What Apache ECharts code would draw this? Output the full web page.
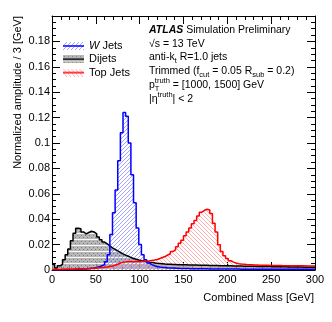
<!DOCTYPE html>
<html>
<head>
<meta charset="utf-8">
<script src="https://cdn.jsdelivr.net/npm/echarts@6/dist/echarts.min.js"></script>
<style>
  html, body { margin: 0; padding: 0; background: #fff; }
  #chart { width: 332px; height: 322px; }
</style>
</head>
<body>
<div id="chart"></div>
<script>
// histogram bins, 3 GeV wide, from 0 to 300 GeV
var binWidth = 3;

var wJets = [
  0.0002, 0.0002, 0.0002, 0.0003, 0.0003, 0.0003, 0.0004, 0.0004, 0.0005, 0.0005,
  0.0006, 0.0007, 0.0008, 0.0010, 0.0013, 0.0016, 0.0020, 0.0026, 0.0033, 0.0042,
  0.0065, 0.0120, 0.0280, 0.0450, 0.0630, 0.0860, 0.1080, 0.1240, 0.1210, 0.1000,
  0.0750, 0.0530, 0.0330, 0.0200, 0.0120, 0.0080, 0.0055, 0.0042, 0.0034, 0.0028,
  0.0024, 0.0021, 0.0019, 0.0017, 0.0016, 0.0015, 0.0014, 0.0013, 0.0012, 0.0012,
  0.0011, 0.0011, 0.0010, 0.0010, 0.0010, 0.0009, 0.0009, 0.0009, 0.0009, 0.0008,
  0.0008, 0.0008, 0.0008, 0.0008, 0.0007, 0.0007, 0.0007, 0.0007, 0.0007, 0.0007,
  0.0007, 0.0006, 0.0006, 0.0006, 0.0006, 0.0006, 0.0006, 0.0006, 0.0006, 0.0006,
  0.0006, 0.0006, 0.0005, 0.0005, 0.0005, 0.0005, 0.0005, 0.0005, 0.0005, 0.0005,
  0.0005, 0.0005, 0.0005, 0.0005, 0.0005, 0.0005, 0.0005, 0.0005, 0.0005, 0.0005
];

var dijets = [
  0.0045, 0.0015, 0.0033, 0.0045, 0.0080, 0.0120, 0.0165, 0.0230, 0.0290, 0.0328,
  0.0325, 0.0300, 0.0285, 0.0295, 0.0305, 0.0300, 0.0285, 0.0260, 0.0238, 0.0220,
  0.0205, 0.0190, 0.0175, 0.0162, 0.0150, 0.0138, 0.0127, 0.0117, 0.0108, 0.0099,
  0.0091, 0.0085, 0.0079, 0.0074, 0.0070, 0.0066, 0.0062, 0.0059, 0.0056, 0.0053,
  0.0051, 0.0049, 0.0047, 0.0046, 0.0045, 0.0044, 0.0043, 0.0042, 0.0042, 0.0041,
  0.0041, 0.0040, 0.0040, 0.0039, 0.0039, 0.0038, 0.0038, 0.0037, 0.0037, 0.0036,
  0.0036, 0.0035, 0.0035, 0.0034, 0.0034, 0.0033, 0.0033, 0.0033, 0.0032, 0.0032,
  0.0031, 0.0031, 0.0030, 0.0030, 0.0030, 0.0029, 0.0029, 0.0028, 0.0028, 0.0028,
  0.0027, 0.0027, 0.0027, 0.0026, 0.0026, 0.0026, 0.0025, 0.0025, 0.0025, 0.0024,
  0.0024, 0.0024, 0.0023, 0.0023, 0.0023, 0.0022, 0.0022, 0.0022, 0.0021, 0.0021
];

var topJets = [
  0.0003, 0.0003, 0.0004, 0.0004, 0.0005, 0.0005, 0.0006, 0.0006, 0.0007, 0.0008,
  0.0008, 0.0009, 0.0010, 0.0011, 0.0012, 0.0013, 0.0015, 0.0017, 0.0019, 0.0021,
  0.0024, 0.0028, 0.0032, 0.0037, 0.0045, 0.0055, 0.0060, 0.0064, 0.0066, 0.0066,
  0.0065, 0.0066, 0.0067, 0.0068, 0.0069, 0.0070, 0.0072, 0.0075, 0.0078, 0.0083,
  0.0090, 0.0098, 0.0106, 0.0118, 0.0128, 0.0145, 0.0160, 0.0183, 0.0210, 0.0235,
  0.0270, 0.0300, 0.0330, 0.0365, 0.0390, 0.0425, 0.0455, 0.0470, 0.0478, 0.0472,
  0.0445, 0.0368, 0.0300, 0.0198, 0.0145, 0.0112, 0.0090, 0.0073, 0.0062, 0.0055,
  0.0050, 0.0047, 0.0045, 0.0043, 0.0042, 0.0041, 0.0040, 0.0039, 0.0038, 0.0038,
  0.0037, 0.0037, 0.0036, 0.0036, 0.0035, 0.0035, 0.0035, 0.0034, 0.0034, 0.0034,
  0.0034, 0.0033, 0.0033, 0.0033, 0.0033, 0.0033, 0.0032, 0.0032, 0.0032, 0.0032
];

var seriesNames = ['W Jets', 'Dijets', 'Top Jets'];
var xStep = 50;
var yStep = 0.02;

var FONT = 'Liberation Sans, Arial, Helvetica, sans-serif';

// fill patterns (ROOT style hatches)
function hatch(color, forward) {
  var c = document.createElement('canvas');
  c.width = 4; c.height = 4;
  var g = c.getContext('2d');
  g.strokeStyle = color;
  g.lineWidth = 0.8;
  g.beginPath();
  if (forward) {
    g.moveTo(-1, 5); g.lineTo(5, -1);
    g.moveTo(-1, 1); g.lineTo(1, -1);
    g.moveTo(3, 5); g.lineTo(5, 3);
  } else {
    g.moveTo(-1, -1); g.lineTo(5, 5);
    g.moveTo(3, -1); g.lineTo(5, 1);
    g.moveTo(-1, 3); g.lineTo(1, 5);
  }
  g.stroke();
  return c;
}
function dotted() {
  var c = document.createElement('canvas');
  c.width = 4; c.height = 6;
  var g = c.getContext('2d');
  g.fillStyle = 'rgba(165,165,165,0.8)';
  g.fillRect(0, 0, 4, 6);
  g.fillStyle = 'rgba(110,110,110,0.8)';
  g.fillRect(1, 1, 1, 1);
  g.fillRect(3, 3, 1, 1);
  g.fillStyle = 'rgba(255,255,255,0.9)';
  g.fillRect(0, 5, 4, 1);
  return c;
}

var wTile = hatch('#8c8cff', true);
var topTile = hatch('#ff9a9a', false);
var diTile = dotted();

// legend icon: pattern box with the line colour through the middle
function icon(tile, lineColor) {
  var c = document.createElement('canvas');
  c.width = 21; c.height = 8;
  var g = c.getContext('2d');
  g.fillStyle = g.createPattern(tile, 'repeat');
  g.fillRect(0, 0, 21, 8);
  g.strokeStyle = lineColor;
  g.lineWidth = 1.5;
  g.beginPath(); g.moveTo(0, 4); g.lineTo(21, 4); g.stroke();
  return 'image://' + c.toDataURL();
}

function steps(vals) {
  var pts = vals.map(function (v, i) { return [i * binWidth, v]; });
  pts.push([vals.length * binWidth, vals[vals.length - 1]]);
  return pts;
}

// text with sub/superscripts, laid out piece by piece
var mctx = document.createElement('canvas').getContext('2d');
function tw(text, size, style, weight) {
  mctx.font = style + ' ' + weight + ' ' + size + 'px ' + FONT;
  return mctx.measureText(text).width;
}
function txt(x, y, text, size, style, weight) {
  return {
    type: 'text', x: x, y: y, silent: true,
    style: {
      text: text, fill: '#000', fontSize: size, fontFamily: FONT,
      fontStyle: style, fontWeight: weight,
      align: 'left', textAlign: 'left', verticalAlign: 'middle', textVerticalAlign: 'middle'
    }
  };
}
function row(x, y, pieces) {
  var out = [], cx = x;
  pieces.forEach(function (p) {
    var st = p.style || 'normal', wt = p.weight || 'normal';
    if (p.t !== undefined) {
      out.push(txt(cx, y, p.t, 10.5, st, wt));
      cx += tw(p.t, 10.5, st, wt);
    } else {
      var w = 0;
      if (p.sup) { out.push(txt(cx, y - 4, p.sup, 7.5, 'normal', 'normal')); w = Math.max(w, tw(p.sup, 7.5, 'normal', 'normal')); }
      if (p.sub) { out.push(txt(cx, y + 3.5, p.sub, 7.5, 'normal', 'normal')); w = Math.max(w, tw(p.sub, 7.5, 'normal', 'normal')); }
      cx += w;
    }
  });
  return out;
}

var tx = 149;
var graphics = [].concat(
  row(tx, 30, [{t: 'ATLAS', style: 'italic', weight: 'bold'}, {t: ' Simulation Preliminary'}]),
  row(tx, 44, [{t: '\u221As = 13 TeV'}]),
  row(tx, 57.5, [{t: 'anti-k'}, {sub: 't'}, {t: ' R=1.0 jets'}]),
  row(tx, 71.5, [{t: 'Trimmed (f'}, {sub: 'cut'}, {t: ' = 0.05 R'}, {sub: 'sub'}, {t: ' = 0.2)'}]),
  row(tx, 85, [{t: 'p'}, {sup: 'truth', sub: 'T'}, {t: ' = [1000, 1500] GeV'}]),
  row(tx, 99, [{t: '|\u03B7'}, {sup: 'truth'}, {t: '| < 2'}]),
  [
    {
      type: 'text', x: 18, y: 16, rotation: Math.PI / 2, silent: true,
      style: {
        text: 'Normalized amplitude / 3 [GeV]', fill: '#000', fontSize: 11, fontFamily: FONT,
        align: 'right', textAlign: 'right', verticalAlign: 'middle', textVerticalAlign: 'middle'
      }
    },
    {
      type: 'text', x: 314, y: 298, silent: true,
      style: {
        text: 'Combined Mass [GeV]', fill: '#000', fontSize: 11, fontFamily: FONT,
        align: 'right', textAlign: 'right', verticalAlign: 'middle', textVerticalAlign: 'middle'
      }
    }
  ]
);

var axisCommon = {
  type: 'value',
  axisLine: { show: true, onZero: false, lineStyle: { color: '#000', width: 1 } },
  axisTick: { show: true, inside: true, length: 8, lineStyle: { color: '#000' } },
  minorTick: { show: true, length: 4, lineStyle: { color: '#000' } },
  splitLine: { show: false },
  axisLabel: { color: '#000', fontSize: 11, fontFamily: FONT }
};
function axis(extra) {
  return echarts.util.merge(echarts.util.clone(axisCommon), extra, true);
}

var chart = echarts.init(document.getElementById('chart'), null, { renderer: 'canvas' });

var option = {
  animation: false,
  backgroundColor: '#fff',
  grid: { left: 52, right: 17, top: 16, bottom: 52 },
  xAxis: [
    axis({ position: 'bottom', min: 0, max: 300, interval: xStep, minorTick: { splitNumber: 5 }, axisLabel: { margin: 4 } }),
    axis({ position: 'top', min: 0, max: 300, interval: xStep, minorTick: { splitNumber: 5 }, axisLabel: { show: false } })
  ],
  yAxis: [
    axis({ position: 'left', min: 0, max: 0.2, interval: yStep, minorTick: { splitNumber: 4 }, axisLabel: { margin: 2, showMaxLabel: false } }),
    axis({ position: 'right', min: 0, max: 0.2, interval: yStep, minorTick: { splitNumber: 4 }, axisLabel: { show: false } })
  ],
  legend: {
    orient: 'vertical', left: 63, top: 39.5, padding: 0, itemGap: 0.3,
    itemWidth: 21, itemHeight: 8,
    selectedMode: false,
    data: [
      { name: seriesNames[0], icon: icon(wTile, '#0000ff') },
      { name: seriesNames[1], icon: icon(diTile, '#000000') },
      { name: seriesNames[2], icon: icon(topTile, '#ff0000') }
    ],
    formatter: function (name) { return name === 'W Jets' ? '{i|W} Jets' : name; },
    textStyle: {
      color: '#000', fontSize: 11, fontFamily: FONT, lineHeight: 13,
      rich: { i: { fontStyle: 'italic', fontSize: 11, fontFamily: FONT, lineHeight: 13 } }
    }
  },
  series: [
    {
      name: seriesNames[1], type: 'line', step: 'end', symbol: 'none', silent: true,
      data: steps(dijets),
      lineStyle: { color: '#000', width: 1.5 },
      itemStyle: { color: '#000' },
      areaStyle: { color: { image: diTile, repeat: 'repeat' }, opacity: 1 }
    },
    {
      name: seriesNames[0], type: 'line', step: 'end', symbol: 'none', silent: true,
      data: steps(wJets),
      lineStyle: { color: '#0000ff', width: 1.5 },
      itemStyle: { color: '#0000ff' },
      areaStyle: { color: { image: wTile, repeat: 'repeat' }, opacity: 1 }
    },
    {
      name: seriesNames[2], type: 'line', step: 'end', symbol: 'none', silent: true,
      data: steps(topJets),
      lineStyle: { color: '#ff0000', width: 1.5 },
      itemStyle: { color: '#ff0000' },
      areaStyle: { color: { image: topTile, repeat: 'repeat' }, opacity: 1 }
    }
  ],
  graphic: graphics
};

chart.setOption(option);
</script>
</body>
</html>
